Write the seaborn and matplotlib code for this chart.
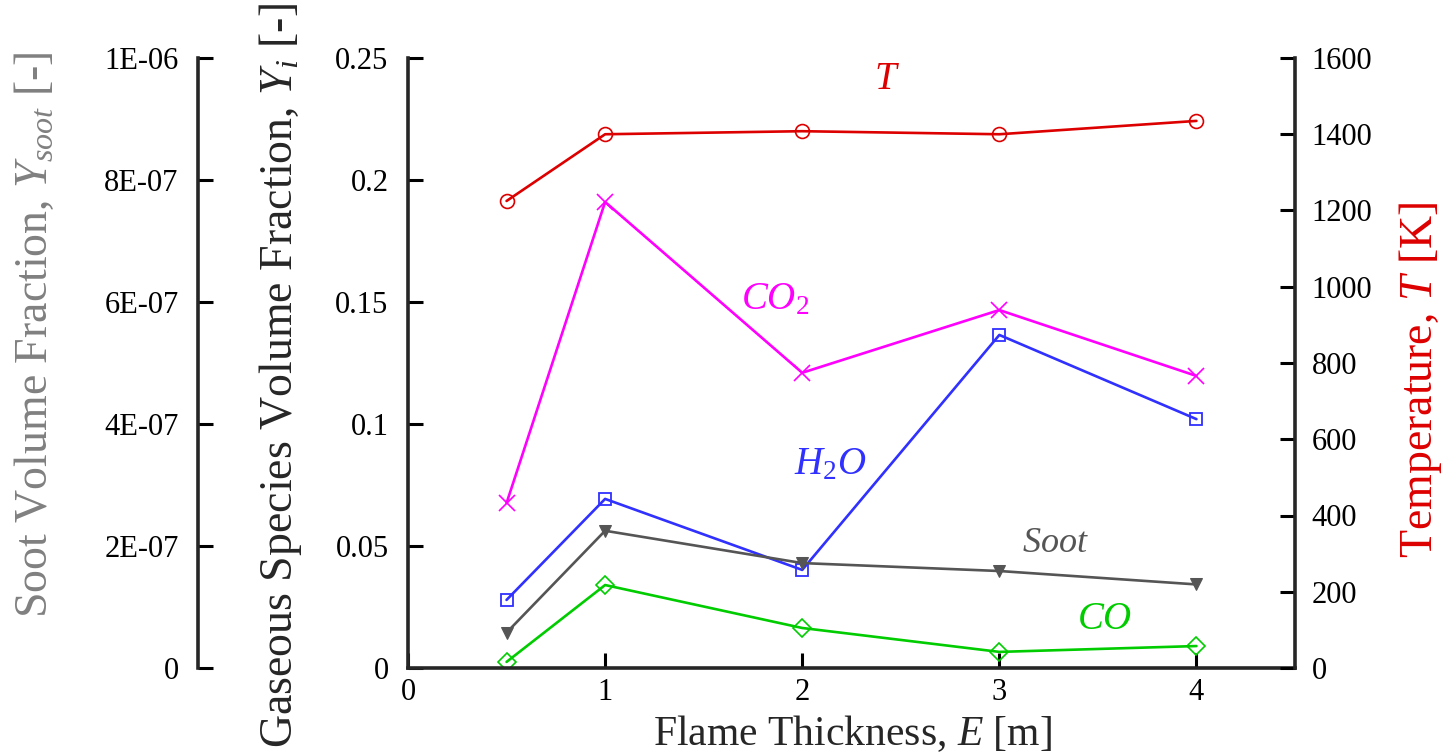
import numpy as np
import pandas as pd
import matplotlib
matplotlib.use("Agg")
import matplotlib.pyplot as plt
import seaborn as sns
from matplotlib.ticker import FixedLocator, FuncFormatter

# ---- data ----
thickness = [0.5, 1, 2, 3, 4]
temperature = [1225, 1400, 1408, 1400, 1435]
co2 = [0.0676, 0.191, 0.121, 0.1467, 0.1197]
h2o = [0.0279, 0.0693, 0.0402, 0.1365, 0.102]
co = [0.0025, 0.034, 0.0164, 0.0066, 0.009]
soot = [5.8e-8, 2.25e-7, 1.72e-7, 1.59e-7, 1.37e-7]

x_ticks = [0, 1, 2, 3, 4]
gas_ticks = [0, 0.05, 0.1, 0.15, 0.2, 0.25]
soot_ticks = [0, 2e-7, 4e-7, 6e-7, 8e-7, 1e-6]
soot_tick_labels = ["0", "2E-07", "4E-07", "6E-07", "8E-07", "1E-06"]
temp_ticks = [0, 200, 400, 600, 800, 1000, 1200, 1400, 1600]

sns.set_theme(style="ticks")
plt.rcParams["font.family"] = ["Liberation Serif", "DejaVu Serif"]
plt.rcParams["mathtext.fontset"] = "custom"
plt.rcParams["mathtext.rm"] = "Liberation Serif"
plt.rcParams["mathtext.it"] = "Liberation Serif:italic"

C_T = "#DD0000"
C_CO2 = "#FF00FF"
C_H2O = "#3030FF"
C_SOOT = "#555555"
C_CO = "#00CC00"

fig = plt.figure(figsize=(14.42, 7.53), dpi=100)
X0, X1, Y0, Y1 = 408, 1295, 668, 58
L, R, B, T = X0 / 1442, X1 / 1442, 1 - Y0 / 753, 1 - Y1 / 753
ax = fig.add_axes([L, B, R - L, T - B])
ax_t = ax.twinx()
ax_s = ax.twinx()

def ax_x(px):
    return (px - X0) / (X1 - X0)

def ax_y(py):
    return (Y0 - py) / (Y0 - Y1)

lw = 1.9
ms = 9
df_gas = pd.DataFrame({"E": thickness, "CO2": co2, "H2O": h2o, "CO": co})
sns.lineplot(data=df_gas, x="E", y="CO2", ax=ax, color=C_CO2, marker="x", markersize=ms + 3,
             markeredgecolor=C_CO2, markeredgewidth=1.2, lw=lw)
sns.lineplot(data=df_gas, x="E", y="H2O", ax=ax, color=C_H2O, marker="s", markersize=ms - 1,
             markerfacecolor="none", markeredgecolor=C_H2O, markeredgewidth=1.3, lw=lw)
sns.lineplot(data=df_gas, x="E", y="CO", ax=ax, color=C_CO, marker="D", markersize=ms,
             markerfacecolor="none", markeredgecolor=C_CO, markeredgewidth=1.2, lw=lw)

df_t = pd.DataFrame({"E": thickness, "T": temperature})
sns.lineplot(data=df_t, x="E", y="T", ax=ax_t, color=C_T, marker="o", markersize=ms + 1,
             markerfacecolor="none", markeredgecolor=C_T, markeredgewidth=1.2, lw=lw)

df_s = pd.DataFrame({"E": thickness, "soot": soot})
sns.lineplot(data=df_s, x="E", y="soot", ax=ax_s, color=C_SOOT, marker="v", markersize=ms,
             markerfacecolor=C_SOOT, markeredgecolor=C_SOOT, lw=lw)

# limits
ax.set_xlim(0, 4.5)
ax.set_ylim(0, 0.25)
ax_t.set_ylim(0, 1600)
ax_s.set_ylim(0, 1e-6)

tick_kw = dict(direction="in", length=11, width=2.2, labelsize=22, colors="black")

# main axes
for s in ["top", "right"]:
    ax.spines[s].set_visible(False)
for s in ["left", "bottom"]:
    ax.spines[s].set_linewidth(2.6)
ax.xaxis.set_major_locator(FixedLocator(x_ticks))
ax.yaxis.set_major_locator(FixedLocator(gas_ticks))
ax.yaxis.set_major_formatter(FuncFormatter(lambda v, p: "%g" % v))
ax.tick_params(axis="x", pad=7, **tick_kw)
ax.tick_params(axis="y", pad=14, **tick_kw)
ax.set_xlabel("Flame Thickness, $\\mathit{E}$ [m]", fontsize=30)
ax.xaxis.set_label_coords(ax_x(852), ax_y(734))
ax.xaxis.label.set_va("center")
ax.set_ylabel("Gaseous Species Volume Fraction, $\\mathit{Y}_{\\mathit{i}}$ [-]", fontsize=33)
ax.yaxis.set_label_coords(ax_x(280), ax_y(376))
ax.yaxis.label.set_va("center")

# temperature axis
for s in ["top", "left", "bottom"]:
    ax_t.spines[s].set_visible(False)
ax_t.spines["right"].set_linewidth(2.6)
ax_t.yaxis.set_major_locator(FixedLocator(temp_ticks))
ax_t.yaxis.set_major_formatter(FuncFormatter(lambda v, p: "%d" % v))
ax_t.tick_params(axis="y", pad=12, **tick_kw)
ax_t.set_ylabel("Temperature, $\\mathit{T}$ [K]", fontsize=33, color=C_T)
ax_t.yaxis.set_label_coords(ax_x(1420), ax_y(380))
ax_t.yaxis.label.set_va("center")

# soot axis
for s in ["top", "right", "bottom"]:
    ax_s.spines[s].set_visible(False)
ax_s.spines["left"].set_visible(True)
ax_s.spines["left"].set_position(("axes", ax_x(198)))
ax_s.spines["left"].set_linewidth(2.6)
ax_s.yaxis.set_label_position("left")
ax_s.yaxis.set_ticks_position("left")
ax_s.yaxis.set_major_locator(FixedLocator(soot_ticks))
ax_s.set_yticklabels(soot_tick_labels)
ax_s.tick_params(axis="y", pad=14, **tick_kw)
ax_s.set_ylabel("Soot Volume Fraction, $\\mathit{Y}_{\\mathit{soot}}$ [-]", fontsize=33, color="#808080")
ax_s.yaxis.set_label_coords(ax_x(35), ax_y(335))
ax_s.yaxis.label.set_va("center")

for a in (ax_t, ax_s):
    a.set_xlabel("")
for a in (ax, ax_t, ax_s):
    a.patch.set_visible(False)

# annotations
ax.text(2.43, 0.241, "$\\mathit{T}$", color=C_T, fontsize=28, ha="center", va="center")
ax.text(1.862, 0.1508, "$\\mathit{CO}_{2}$", color=C_CO2, fontsize=28, ha="center", va="center")
ax.text(2.141, 0.0832, "$\\mathit{H}_{2}\\mathit{O}$", color=C_H2O, fontsize=28, ha="center", va="center")
ax.text(3.283, 0.0512, "$\\mathit{Soot}$", color=C_SOOT, fontsize=26, ha="center", va="center")
ax.text(3.536, 0.0197, "$\\mathit{CO}$", color=C_CO, fontsize=28, ha="center", va="center")

fig.savefig("out.png", dpi=100)
